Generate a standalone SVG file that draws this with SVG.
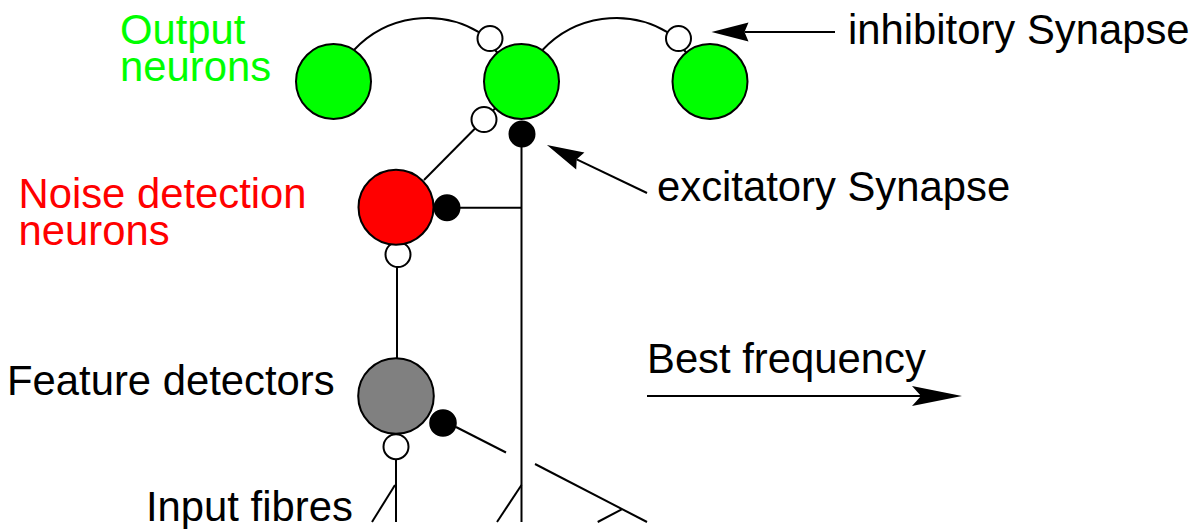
<svg xmlns="http://www.w3.org/2000/svg" width="1196" height="529" viewBox="0 0 1196 529">
<style>
  .ln{fill:none;stroke:#000;stroke-width:2;}
  .neuron{stroke:#000;stroke-width:2;}
  .out{fill:#00ff00;}
  .noise{fill:#ff0000;}
  .feat{fill:#808080;}
  .inh{fill:#fff;stroke:#000;stroke-width:2;}
  .exc{fill:#000;stroke:#000;stroke-width:2;}
  text{font-family:"Liberation Sans",Arial,sans-serif;font-size:41.8px;fill:#000;}
  .tg{fill:#00ff00;}
  .tr{fill:#ff0000;}
</style>
<defs>
  <marker id="arrS" markerUnits="userSpaceOnUse" viewBox="0 -10 38 20" markerWidth="38" markerHeight="20" refX="4" refY="0" orient="auto" overflow="visible">
    <path d="M37,0 L0,-9.5 L4,0 L0,9.5 Z" fill="#000"/>
  </marker>
  <marker id="arrL" markerUnits="userSpaceOnUse" viewBox="0 -11 51 22" markerWidth="51" markerHeight="22" refX="9" refY="0" orient="auto" overflow="visible">
    <path d="M50,0 L0,-10 L9,0 L0,10 Z" fill="#000"/>
  </marker>
</defs>
<rect width="1196" height="529" fill="#fff"/>

<g id="connectors">
  <path class="ln" d="M354,50 A100.6,100.6 0 0 1 479.3,32.3"/>
  <path class="ln" d="M542.5,50 A100.6,100.6 0 0 1 667.8,32.3"/>
  <line class="ln" x1="495" y1="50" x2="498.5" y2="54"/>
  <line class="ln" x1="684" y1="50" x2="687.5" y2="54"/>
  <line class="ln" x1="493" y1="110.5" x2="496" y2="107.5"/>
  <line class="ln" x1="424" y1="180" x2="475" y2="128.5"/>
  <line class="ln" x1="521.5" y1="147" x2="521.5" y2="522"/>
  <line class="ln" x1="460" y1="207.7" x2="521.5" y2="207.7"/>
  <line class="ln" x1="397" y1="267" x2="397" y2="358"/>
  <line class="ln" x1="456" y1="427" x2="506" y2="452.5"/>
  <line class="ln" x1="535" y1="464" x2="647" y2="522"/>
  <line class="ln" x1="621.7" y1="509.3" x2="597.7" y2="522"/>
  <line class="ln" x1="396" y1="459.5" x2="396" y2="522"/>
  <line class="ln" x1="395" y1="485" x2="372" y2="522"/>
  <line class="ln" x1="521.5" y1="485" x2="497" y2="522"/>
  <line class="ln" x1="835" y1="32" x2="744.5" y2="32" marker-end="url(#arrS)"/>
  <line class="ln" x1="647" y1="193" x2="576.7" y2="159.3" marker-end="url(#arrS)"/>
  <line class="ln" x1="647" y1="396" x2="921" y2="396" marker-end="url(#arrL)"/>
</g>

<g id="output-neuron-1"><circle class="neuron out" cx="333.5" cy="81.5" r="37.5"/></g>
<g id="output-neuron-2"><circle class="neuron out" cx="521.5" cy="81.5" r="37.5"/></g>
<g id="output-neuron-3"><circle class="neuron out" cx="710" cy="81.5" r="37.5"/></g>
<g id="inh-syn-1"><circle class="inh" cx="490" cy="38.5" r="12.5"/></g>
<g id="inh-syn-2"><circle class="inh" cx="678.5" cy="38.5" r="12.5"/></g>
<g id="inh-syn-3"><circle class="inh" cx="484" cy="119.5" r="12.5"/></g>
<g id="exc-syn-1"><circle class="exc" cx="522" cy="134" r="12.5"/></g>
<g id="inh-syn-4"><circle class="inh" cx="398" cy="254.5" r="12.5"/></g>
<g id="noise-neuron"><circle class="neuron noise" cx="396" cy="207.3" r="37.5"/></g>
<g id="exc-syn-2"><circle class="exc" cx="447" cy="207.7" r="12.5"/></g>
<g id="feature-neuron"><circle class="neuron feat" cx="396" cy="396" r="37.8"/></g>
<g id="exc-syn-3"><circle class="exc" cx="443" cy="423" r="12.8"/></g>
<g id="inh-syn-5"><circle class="inh" cx="396" cy="446.7" r="12.5"/></g>

<g id="labels">
  <text class="tg" x="120" y="44">Output<tspan x="120" y="80.5">neurons</tspan></text>
  <text x="848" y="44">inhibitory Synapse</text>
  <text class="tr" x="18.5" y="208">Noise detection<tspan x="18.5" y="244.5">neurons</tspan></text>
  <text x="657" y="201">excitatory Synapse</text>
  <text x="7" y="395">Feature detectors</text>
  <text x="647" y="372.5">Best frequency</text>
  <text x="146" y="521">Input fibres</text>
</g>
</svg>
